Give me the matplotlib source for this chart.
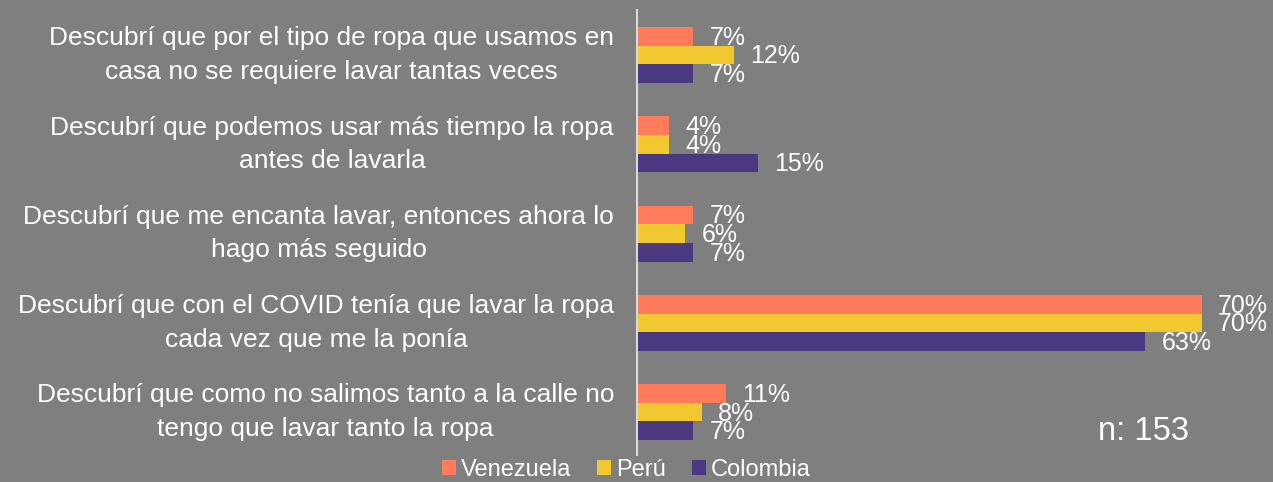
import matplotlib.pyplot as plt
import numpy as np

categories = [
    "Descubrí que por el tipo de ropa que usamos en\ncasa no se requiere lavar tantas veces",
    "Descubrí que podemos usar más tiempo la ropa\nantes de lavarla",
    "Descubrí que me encanta lavar, entonces ahora lo\nhago más seguido",
    "Descubrí que con el COVID tenía que lavar la ropa\ncada vez que me la ponía",
    "Descubrí que como no salimos tanto a la calle no\ntengo que lavar tanto la ropa",
]
series = ["Venezuela", "Perú", "Colombia"]
venezuela = [7, 4, 7, 70, 11]
peru = [12, 4, 6, 70, 8]
colombia = [7, 15, 7, 63, 7]
colors = ["#FF7B5C", "#F2C831", "#4A3880"]

plt.rcParams["font.family"] = ["Liberation Sans", "DejaVu Sans"]
bg = "#7F7F7F"

fig = plt.figure(figsize=(12.73, 4.82), dpi=100, facecolor=bg)
ax = fig.add_axes([0.5004, 0.056, 0.4564, 0.923], facecolor=bg)

y = np.arange(len(categories))
h = 0.209
for i, (name, vals, c) in enumerate(zip(series, [venezuela, peru, colombia], colors)):
    pos = y + (i - 1) * h
    bars = ax.barh(pos, vals, height=h, color=c, label=name)
    for b, v in zip(bars, vals):
        ax.annotate(f"{v}%", (b.get_width(), b.get_y() + b.get_height() / 2),
                    xytext=(11.5, -1), textcoords="offset points",
                    ha="left", va="center", color="white", fontsize=18)

ax.set_xlim(0, 72)
ax.set_ylim(4.48, -0.504)
ax.set_yticks(y)
ax.set_yticklabels(categories, fontsize=19, color="white", ha="right", va="center",
                   multialignment="center", linespacing=1.5)
ax.tick_params(axis="y", length=0, pad=16.5)
ax.set_xticks([])
for s in ["top", "right", "bottom"]:
    ax.spines[s].set_visible(False)
ax.spines["left"].set_color("#D9D9D9")
ax.spines["left"].set_linewidth(1.5)

fig.text(0.898, 0.104, "n: 153", fontsize=23.5, color="white", ha="center", va="center")

fig.legend(loc="center", bbox_to_anchor=(0.492, 0.025), ncol=3, frameon=False,
           fontsize=17, labelcolor="white", handlelength=0.6, handleheight=0.6,
           handletextpad=0.2, columnspacing=1.1, borderpad=0, borderaxespad=0)

fig.savefig("out.png", dpi=100, facecolor=bg)
